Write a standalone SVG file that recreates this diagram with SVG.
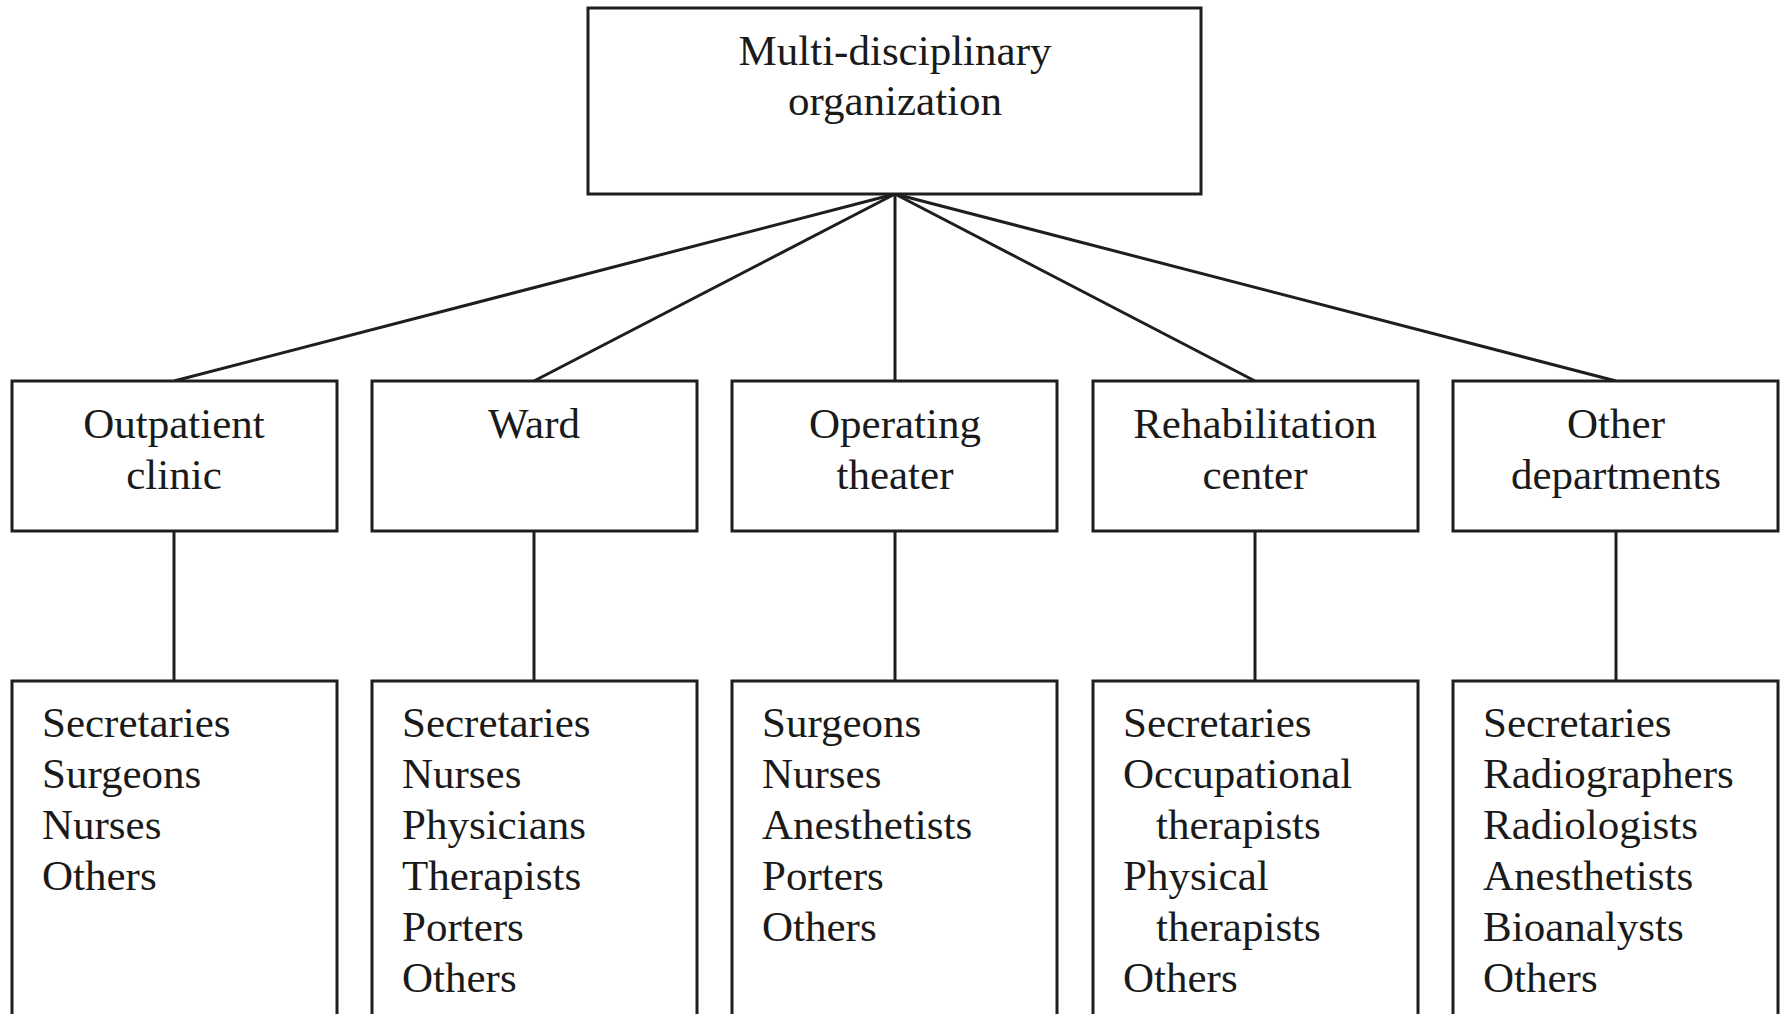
<svg xmlns="http://www.w3.org/2000/svg" width="1783" height="1014" viewBox="0 0 1783 1014">
<style>
.box{fill:#fff;stroke:#1e1e1e;stroke-width:3}
.t{font-family:"Liberation Serif","Times New Roman",serif;font-size:43px;fill:#1a1a1a}
.c{text-anchor:middle}
.ln{stroke:#1e1e1e;stroke-width:3;fill:none}
</style>
<rect width="1783" height="1014" fill="#fff"/>
<g id="connectors">
<line class="ln" x1="895" y1="194" x2="174" y2="381"/>
<line class="ln" x1="895" y1="194" x2="534" y2="381"/>
<line class="ln" x1="895" y1="194" x2="895" y2="381"/>
<line class="ln" x1="895" y1="194" x2="1255" y2="381"/>
<line class="ln" x1="895" y1="194" x2="1616" y2="381"/>
<line class="ln" x1="174" y1="531" x2="174" y2="681"/>
<line class="ln" x1="534" y1="531" x2="534" y2="681"/>
<line class="ln" x1="895" y1="531" x2="895" y2="681"/>
<line class="ln" x1="1255" y1="531" x2="1255" y2="681"/>
<line class="ln" x1="1616" y1="531" x2="1616" y2="681"/>
</g>
<g id="root">
<rect class="box" x="588" y="8" width="613" height="186"/>
<text class="t c" x="895" y="65">Multi-disciplinary</text>
<text class="t c" x="895" y="115">organization</text>
</g>
<g id="outpatient">
<rect class="box" x="12" y="381" width="325" height="150"/>
<text class="t c" x="174" y="438">Outpatient</text>
<text class="t c" x="174" y="489">clinic</text>
</g>
<g id="ward">
<rect class="box" x="372" y="381" width="325" height="150"/>
<text class="t c" x="534" y="438">Ward</text>
</g>
<g id="operating">
<rect class="box" x="732" y="381" width="325" height="150"/>
<text class="t c" x="895" y="438">Operating</text>
<text class="t c" x="895" y="489">theater</text>
</g>
<g id="rehab">
<rect class="box" x="1093" y="381" width="325" height="150"/>
<text class="t c" x="1255" y="438">Rehabilitation</text>
<text class="t c" x="1255" y="489">center</text>
</g>
<g id="other">
<rect class="box" x="1453" y="381" width="325" height="150"/>
<text class="t c" x="1616" y="438">Other</text>
<text class="t c" x="1616" y="489">departments</text>
</g>
<g id="staff-outpatient">
<rect class="box" x="12" y="681" width="325" height="360"/>
<text class="t" x="42" y="737">Secretaries</text>
<text class="t" x="42" y="788">Surgeons</text>
<text class="t" x="42" y="839">Nurses</text>
<text class="t" x="42" y="890">Others</text>
</g>
<g id="staff-ward">
<rect class="box" x="372" y="681" width="325" height="360"/>
<text class="t" x="402" y="737">Secretaries</text>
<text class="t" x="402" y="788">Nurses</text>
<text class="t" x="402" y="839">Physicians</text>
<text class="t" x="402" y="890">Therapists</text>
<text class="t" x="402" y="941">Porters</text>
<text class="t" x="402" y="992">Others</text>
</g>
<g id="staff-operating">
<rect class="box" x="732" y="681" width="325" height="360"/>
<text class="t" x="762" y="737">Surgeons</text>
<text class="t" x="762" y="788">Nurses</text>
<text class="t" x="762" y="839">Anesthetists</text>
<text class="t" x="762" y="890">Porters</text>
<text class="t" x="762" y="941">Others</text>
</g>
<g id="staff-rehab">
<rect class="box" x="1093" y="681" width="325" height="360"/>
<text class="t" x="1123" y="737">Secretaries</text>
<text class="t" x="1123" y="788">Occupational</text>
<text class="t" x="1156" y="839">therapists</text>
<text class="t" x="1123" y="890">Physical</text>
<text class="t" x="1156" y="941">therapists</text>
<text class="t" x="1123" y="992">Others</text>
</g>
<g id="staff-other">
<rect class="box" x="1453" y="681" width="325" height="360"/>
<text class="t" x="1483" y="737">Secretaries</text>
<text class="t" x="1483" y="788">Radiographers</text>
<text class="t" x="1483" y="839">Radiologists</text>
<text class="t" x="1483" y="890">Anesthetists</text>
<text class="t" x="1483" y="941">Bioanalysts</text>
<text class="t" x="1483" y="992">Others</text>
</g>
</svg>
